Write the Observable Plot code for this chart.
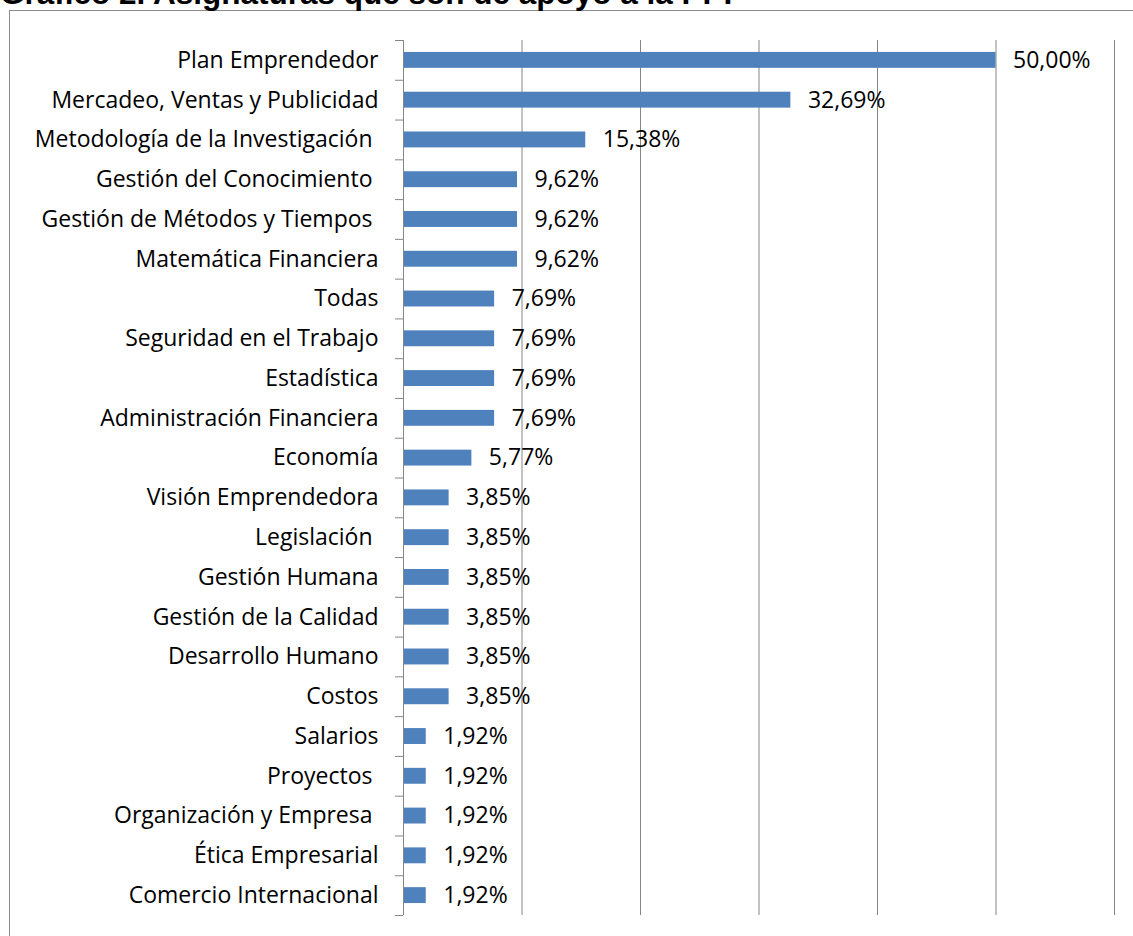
<!DOCTYPE html>
<html>
<head>
<meta charset="utf-8">
<script src="https://cdn.jsdelivr.net/npm/d3@7"></script>
<script src="https://cdn.jsdelivr.net/npm/@observablehq/plot@0.6"></script>
<style>
  html, body { margin: 0; padding: 0; background: white; overflow: hidden; }
  #page { position: relative; width: 1133px; height: 936px; overflow: hidden; }
  #frame { position: absolute; left: 9px; top: 10px; width: 1300px; height: 1100px;
           border-left: 1.5px solid #8a8a8a; border-top: 1.5px solid #8a8a8a; }
  #title { position: absolute; left: 0px; top: -22px; font-family: "Liberation Sans", Arial, sans-serif;
           font-weight: bold; font-size: 31.5px; line-height: 31.5px; white-space: nowrap; color: #000; }
  #chart { position: absolute; left: 0; top: 0; }
</style>
</head>
<body>
<div id="page">
  <div id="frame"></div>
  <div id="title">Gráfico 2. Asignaturas que son de apoyo a la PPP</div>
  <div id="chart"></div>
</div>
<script>
const categories = [
  "Plan Emprendedor",
  "Mercadeo, Ventas y Publicidad",
  "Metodología de la Investigación\u00a0",
  "Gestión del Conocimiento\u00a0",
  "Gestión de Métodos y Tiempos\u00a0",
  "Matemática Financiera",
  "Todas",
  "Seguridad en el Trabajo",
  "Estadística",
  "Administración Financiera",
  "Economía",
  "Visión Emprendedora",
  "Legislación\u00a0",
  "Gestión Humana",
  "Gestión de la Calidad",
  "Desarrollo Humano",
  "Costos",
  "Salarios",
  "Proyectos\u00a0",
  "Organización y Empresa\u00a0",
  "Ética Empresarial",
  "Comercio Internacional"
];
const values = [50.00, 32.69, 15.38, 9.62, 9.62, 9.62, 7.69, 7.69, 7.69, 7.69, 5.77,
                3.85, 3.85, 3.85, 3.85, 3.85, 3.85, 1.92, 1.92, 1.92, 1.92, 1.92];
const gridTicks = [10, 20, 30, 40, 50, 60];

const data = categories.map((c, i) => ({name: c, value: values[i]}));
const fmt = v => v.toFixed(2).replace(".", ",") + "%";

const W = 1133, H = 936, mT = 40, mB = 21;
const step = (H - mT - mB) / categories.length;
const FS = 23;

const chart = Plot.plot({
  width: W,
  height: H,
  marginLeft: 403,
  marginRight: 19,
  marginTop: mT,
  marginBottom: mB,
  style: {fontFamily: "'Open Sans', sans-serif", fontSize: FS + "px", color: "#000", background: "transparent", overflow: "visible"},
  x: {domain: [0, 60], axis: null},
  y: {domain: categories, paddingInner: 0.6, paddingOuter: 0.3, round: false, axis: null, label: null},
  marks: [
    Plot.gridX(gridTicks, {stroke: "#868686", strokeOpacity: 1, strokeWidth: 1}),
    Plot.barX(data, {x: "value", y: "name", fill: "#4F81BD", insetLeft: 1}),
    Plot.ruleX([0], {stroke: "#868686", strokeWidth: 1}),
    Plot.axisY({anchor: "left", label: null, tickSize: 8, stroke: "#868686", tickFormat: () => "", dy: -step / 2}),
    Plot.axisY([categories[categories.length - 1]], {anchor: "left", label: null, tickSize: 8, stroke: "#868686", tickFormat: () => "", dy: step / 2}),
    Plot.axisY({anchor: "left", label: null, tickSize: 0, tickPadding: 25, fontSize: FS, fill: "#000"}),
    Plot.text(data, {x: "value", y: "name", text: d => fmt(d.value), textAnchor: "start", dx: 17, fontSize: FS, fill: "#000"})
  ]
});
document.getElementById("chart").appendChild(chart);
</script>
</body>
</html>
